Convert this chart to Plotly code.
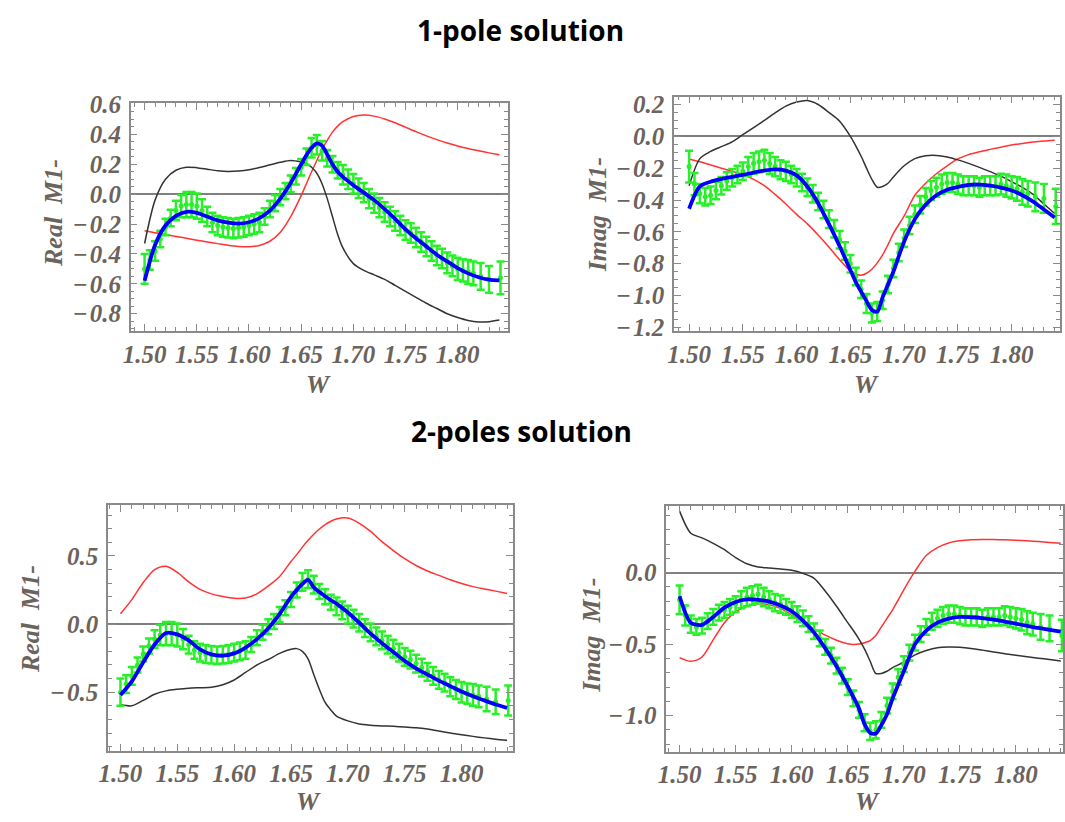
import plotly.graph_objects as go

# ---------------- data ----------------
W_FIT = [1.50, 1.51, 1.52, 1.53, 1.54, 1.55, 1.56, 1.57, 1.58, 1.59, 1.60, 1.61, 1.62, 1.63,
         1.64, 1.65, 1.655, 1.66, 1.665, 1.67, 1.675, 1.68, 1.685, 1.69, 1.70, 1.71, 1.72,
         1.73, 1.74, 1.75, 1.76, 1.77, 1.78, 1.79, 1.80, 1.81, 1.82, 1.83, 1.84]

W_DATA = [1.500, 1.505, 1.510, 1.515, 1.520, 1.525, 1.530, 1.535, 1.540, 1.545, 1.550, 1.555,
          1.560, 1.565, 1.570, 1.575, 1.580, 1.585, 1.590, 1.595, 1.600, 1.605, 1.610, 1.615,
          1.620, 1.625, 1.630, 1.635, 1.640, 1.645, 1.650, 1.655, 1.660, 1.665, 1.670, 1.675,
          1.680, 1.685, 1.690, 1.695, 1.700, 1.705, 1.710, 1.715, 1.720, 1.725, 1.730, 1.735,
          1.740, 1.745, 1.750, 1.755, 1.760, 1.765, 1.770, 1.775, 1.780, 1.785, 1.790, 1.795,
          1.800, 1.805, 1.810, 1.815, 1.822, 1.830, 1.841]

REAL_DATA = [-0.50, -0.44, -0.38, -0.30, -0.22, -0.16, -0.11, -0.08, -0.07, -0.07, -0.08, -0.11,
             -0.15, -0.19, -0.21, -0.22, -0.225, -0.23, -0.225, -0.22, -0.21, -0.20, -0.19, -0.15,
             -0.10, -0.06, -0.02, 0.02, 0.07, 0.12, 0.18, 0.25, 0.31, 0.33, 0.29, 0.24,
             0.20, 0.16, 0.13, 0.10, 0.07, 0.04, 0.01, -0.03, -0.06, -0.09, -0.12, -0.15,
             -0.18, -0.21, -0.24, -0.26, -0.29, -0.32, -0.35, -0.38, -0.41, -0.43, -0.46, -0.48,
             -0.50, -0.51, -0.52, -0.53, -0.55, -0.57, -0.56]
REAL_ERR = [0.10, 0.065, 0.065, 0.055, 0.055, 0.055, 0.065, 0.075, 0.085, 0.085, 0.085, 0.075,
            0.065, 0.065, 0.065, 0.065, 0.065, 0.065, 0.065, 0.065, 0.065, 0.065, 0.065, 0.055,
            0.055, 0.055, 0.055, 0.055, 0.055, 0.055, 0.055, 0.055, 0.065, 0.065, 0.065, 0.055,
            0.055, 0.055, 0.065, 0.065, 0.065, 0.065, 0.065, 0.065, 0.065, 0.065, 0.065, 0.065,
            0.065, 0.065, 0.065, 0.065, 0.065, 0.065, 0.065, 0.065, 0.065, 0.065, 0.07, 0.07,
            0.075, 0.075, 0.08, 0.08, 0.09, 0.09, 0.11]

IMAG_DATA = [-0.19, -0.30, -0.36, -0.38, -0.37, -0.34, -0.31, -0.28, -0.26, -0.24, -0.22, -0.19,
             -0.17, -0.16, -0.15, -0.17, -0.19, -0.21, -0.22, -0.24, -0.26, -0.29, -0.32, -0.36,
             -0.41, -0.46, -0.52, -0.58, -0.65, -0.72, -0.80, -0.88, -0.96, -1.05, -1.11, -1.10,
             -1.03, -0.93, -0.83, -0.73, -0.64, -0.56, -0.49, -0.43, -0.38, -0.34, -0.32, -0.30,
             -0.29, -0.29, -0.30, -0.31, -0.31, -0.31, -0.32, -0.31, -0.31, -0.31, -0.30, -0.31,
             -0.32, -0.33, -0.35, -0.36, -0.38, -0.39, -0.44]
IMAG_ERR = [0.10, 0.07, 0.06, 0.055, 0.055, 0.055, 0.055, 0.055, 0.055, 0.055, 0.055, 0.06,
            0.065, 0.065, 0.065, 0.065, 0.06, 0.06, 0.06, 0.055, 0.055, 0.055, 0.055, 0.055,
            0.055, 0.055, 0.055, 0.055, 0.055, 0.055, 0.055, 0.055, 0.055, 0.06, 0.06, 0.06,
            0.055, 0.055, 0.055, 0.055, 0.055, 0.055, 0.055, 0.055, 0.055, 0.06, 0.06, 0.06,
            0.06, 0.06, 0.06, 0.06, 0.06, 0.06, 0.06, 0.06, 0.06, 0.06, 0.065, 0.07,
            0.07, 0.075, 0.08, 0.08, 0.09, 0.09, 0.11]

# 1-pole solution, real part
REAL_1P_FIT = [-0.58, -0.34, -0.21, -0.145, -0.118, -0.125, -0.15, -0.175, -0.19, -0.197, -0.188,
               -0.16, -0.11, -0.03, 0.075, 0.20, 0.26, 0.31, 0.34, 0.325, 0.265, 0.20, 0.15, 0.115,
               0.06, 0.01, -0.04, -0.10, -0.165, -0.235, -0.295, -0.35, -0.405, -0.45, -0.495,
               -0.53, -0.556, -0.572, -0.577]
REAL_1P_RED = [-0.245, -0.258, -0.27, -0.283, -0.295, -0.308, -0.32, -0.331, -0.342, -0.35, -0.352,
               -0.343, -0.315, -0.255, -0.15, -0.01, 0.07, 0.15, 0.225, 0.30, 0.36, 0.415, 0.455,
               0.485, 0.52, 0.53, 0.522, 0.503, 0.478, 0.448, 0.418, 0.39, 0.365, 0.342, 0.322,
               0.305, 0.29, 0.276, 0.263]
REAL_1P_BLACK = [-0.33, -0.04, 0.10, 0.16, 0.18, 0.177, 0.167, 0.157, 0.152, 0.155, 0.163, 0.178,
                 0.196, 0.213, 0.225, 0.215, 0.205, 0.18, 0.14, 0.07, -0.03, -0.15, -0.27, -0.36,
                 -0.465, -0.51, -0.54, -0.57, -0.61, -0.65, -0.69, -0.73, -0.765, -0.80, -0.825,
                 -0.845, -0.855, -0.853, -0.842]

# 1-pole solution, imaginary part
IMAG_1P_FIT = [-0.455, -0.315, -0.285, -0.268, -0.255, -0.242, -0.228, -0.215, -0.207, -0.215,
               -0.245, -0.315, -0.42, -0.55, -0.69, -0.84, -0.915, -0.975, -1.035, -1.09, -1.10,
               -1.01, -0.93, -0.85, -0.66, -0.52, -0.43, -0.37, -0.335, -0.318, -0.305, -0.303,
               -0.31, -0.322, -0.34, -0.37, -0.41, -0.46, -0.51]
IMAG_1P_RED = [-0.142, -0.16, -0.18, -0.20, -0.22, -0.24, -0.27, -0.31, -0.365, -0.425, -0.49,
               -0.55, -0.62, -0.695, -0.775, -0.845, -0.865, -0.872, -0.86, -0.835, -0.795, -0.745,
               -0.68, -0.61, -0.50, -0.37, -0.295, -0.235, -0.185, -0.142, -0.115, -0.097, -0.082,
               -0.068, -0.055, -0.045, -0.036, -0.029, -0.024]
IMAG_1P_BLACK = [-0.31, -0.14, -0.095, -0.065, -0.035, 0.01, 0.055, 0.10, 0.148, 0.19, 0.215,
                 0.225, 0.20, 0.15, 0.095, 0.0, -0.06, -0.125, -0.20, -0.27, -0.32, -0.315, -0.295,
                 -0.255, -0.185, -0.14, -0.122, -0.12, -0.13, -0.148, -0.17, -0.195, -0.222, -0.25,
                 -0.285, -0.32, -0.365, -0.425, -0.485]

# 2-poles solution, real part
REAL_2P_FIT = [-0.52, -0.42, -0.28, -0.15, -0.065, -0.075, -0.12, -0.185, -0.222, -0.232, -0.215,
               -0.172, -0.11, -0.03, 0.075, 0.20, 0.25, 0.295, 0.325, 0.27, 0.235, 0.205, 0.175,
               0.15, 0.085, 0.01, -0.07, -0.14, -0.205, -0.27, -0.325, -0.37, -0.415, -0.455,
               -0.495, -0.53, -0.56, -0.59, -0.615]
REAL_2P_RED = [0.076, 0.18, 0.305, 0.40, 0.425, 0.38, 0.31, 0.255, 0.222, 0.203, 0.19, 0.192,
               0.222, 0.28, 0.35, 0.46, 0.51, 0.565, 0.615, 0.66, 0.698, 0.73, 0.755, 0.772, 0.778,
               0.74, 0.68, 0.605, 0.54, 0.48, 0.43, 0.39, 0.358, 0.325, 0.298, 0.275, 0.258, 0.242,
               0.225]
REAL_2P_BLACK = [-0.59, -0.60, -0.56, -0.515, -0.49, -0.478, -0.47, -0.467, -0.464, -0.445, -0.41,
                 -0.355, -0.30, -0.26, -0.215, -0.185, -0.18, -0.20, -0.255, -0.37, -0.48, -0.575,
                 -0.63, -0.675, -0.71, -0.733, -0.742, -0.747, -0.75, -0.755, -0.76, -0.77, -0.785,
                 -0.80, -0.812, -0.824, -0.835, -0.845, -0.853]

# 2-poles solution, imaginary part
IMAG_2P_FIT = [-0.165, -0.35, -0.365, -0.31, -0.245, -0.205, -0.187, -0.19, -0.203, -0.23, -0.27,
               -0.335, -0.42, -0.53, -0.655, -0.795, -0.87, -0.95, -1.06, -1.12, -1.125, -1.065,
               -0.99, -0.88, -0.69, -0.50, -0.405, -0.35, -0.322, -0.31, -0.312, -0.318, -0.328,
               -0.342, -0.357, -0.372, -0.387, -0.40, -0.413]
IMAG_2P_RED = [-0.594, -0.62, -0.59, -0.47, -0.35, -0.275, -0.235, -0.218, -0.225, -0.25, -0.295,
               -0.345, -0.393, -0.437, -0.473, -0.498, -0.503, -0.50, -0.49, -0.475, -0.44, -0.38,
               -0.32, -0.26, -0.12, 0.01, 0.12, 0.175, 0.207, 0.222, 0.23, 0.232, 0.231, 0.229,
               0.226, 0.222, 0.217, 0.211, 0.205]
IMAG_2P_BLACK = [0.43, 0.275, 0.243, 0.205, 0.16, 0.105, 0.062, 0.04, 0.032, 0.025, 0.016, -0.005,
                 -0.04, -0.13, -0.235, -0.35, -0.405, -0.465, -0.535, -0.62, -0.705, -0.705, -0.69,
                 -0.665, -0.625, -0.575, -0.545, -0.525, -0.52, -0.522, -0.53, -0.542, -0.555,
                 -0.567, -0.578, -0.588, -0.598, -0.608, -0.618]

X_TICKS = [1.50, 1.55, 1.60, 1.65, 1.70, 1.75, 1.80]
Y_TICKS_REAL_1P = [-0.8, -0.6, -0.4, -0.2, 0.0, 0.2, 0.4, 0.6]
Y_TICKS_IMAG_1P = [-1.2, -1.0, -0.8, -0.6, -0.4, -0.2, 0.0, 0.2]
Y_TICKS_REAL_2P = [-0.5, 0.0, 0.5]
Y_TICKS_IMAG_2P = [-1.0, -0.5, 0.0]

# ---------------- styling ----------------
LABEL_COLOR = "#6b635c"
FRAME_COLOR = "#8a8a8a"
GREEN = "rgb(40,240,40)"
TICK_FONT = dict(family="Liberation Serif", size=25, color=LABEL_COLOR, weight=700, style="italic")
TITLE_FONT = dict(family="Liberation Serif", size=26, color=LABEL_COLOR, weight=700, style="italic")

W, H = 1065, 822


def px_x(p):
    return p / W


def px_y(p):
    return 1 - p / H


def ylabel(v):
    s = "%.1f" % abs(v)
    return ("\u2212\u200a" + s) if v < 0 else s


panels = [
    dict(x=(123, 504), y=(94, 328), xr=[1.4867, 1.848], yr=[-0.917, 0.6065], yt=Y_TICKS_REAL_1P, mdt=0.05,
         data=REAL_DATA, err=REAL_ERR, fit=REAL_1P_FIT, red=REAL_1P_RED, black=REAL_1P_BLACK,
         ylab="Real  M1-", ylab_pos=(45, 207), w_pos=(313, 383)),
    dict(x=(672, 1062), y=(87, 328), xr=[1.486, 1.845], yr=[-1.224, 0.249], yt=Y_TICKS_IMAG_1P, mdt=0.05,
         data=IMAG_DATA, err=IMAG_ERR, fit=IMAG_1P_FIT, red=IMAG_1P_RED, black=IMAG_1P_BLACK,
         ylab="Imag  M1-", ylab_pos=(595, 208), w_pos=(866, 383)),
    dict(x=(100, 509), y=(507, 759), xr=[1.489, 1.845], yr=[-0.929, 0.871], yt=Y_TICKS_REAL_2P, mdt=0.1,
         data=REAL_DATA, err=REAL_ERR, fit=REAL_2P_FIT, red=REAL_2P_RED, black=REAL_2P_BLACK,
         ylab="Real  M1-", ylab_pos=(22, 624), w_pos=(303, 811)),
    dict(x=(664, 1065), y=(508, 760), xr=[1.488, 1.842], yr=[-1.252, 0.463], yt=Y_TICKS_IMAG_2P, mdt=0.1,
         data=IMAG_DATA, err=IMAG_ERR, fit=IMAG_2P_FIT, red=IMAG_2P_RED, black=IMAG_2P_BLACK,
         ylab="Imag  M1-", ylab_pos=(589, 640), w_pos=(867, 811)),
]

fig = go.Figure()
layout = dict(width=W, height=H, margin=dict(l=0, r=0, t=0, b=0), paper_bgcolor="white",
              plot_bgcolor="white", showlegend=False)
annotations = []

for i, p in enumerate(panels):
    n = "" if i == 0 else str(i + 1)
    xa, ya = "x" + n, "y" + n
    common = dict(showline=True, mirror="allticks", linecolor=FRAME_COLOR, linewidth=1.5,
                  ticks="inside", ticklen=7, tickwidth=1.2, tickcolor=FRAME_COLOR,
                  showgrid=False, tickfont=TICK_FONT)
    layout["xaxis" + n] = dict(common, domain=[px_x(p["x"][0]), px_x(p["x"][1])], range=p["xr"],
                               anchor=ya, tickvals=X_TICKS, ticktext=["%.2f" % v for v in X_TICKS],
                               zeroline=False, ticklabelstandoff=0,
                               minor=dict(ticks="inside", ticklen=4, dtick=0.01, tick0=1.5,
                                          tickcolor=FRAME_COLOR, showgrid=False))
    layout["yaxis" + n] = dict(common, domain=[px_y(p["y"][1]), px_y(p["y"][0])], range=p["yr"],
                               anchor=xa, tickvals=p["yt"], ticktext=[ylabel(v) for v in p["yt"]],
                               zeroline=True, zerolinecolor="#7f7f7f", zerolinewidth=1.8,
                               ticklabelstandoff=3,
                               minor=dict(ticks="inside", ticklen=4, dtick=p["mdt"], tick0=0,
                                          tickcolor=FRAME_COLOR, showgrid=False))

    fig.add_trace(go.Scatter(x=W_FIT, y=p["red"], mode="lines", xaxis=xa, yaxis=ya,
                             line=dict(color="#ff3333", width=1.5, shape="spline", smoothing=0.8)))
    fig.add_trace(go.Scatter(x=W_FIT, y=p["black"], mode="lines", xaxis=xa, yaxis=ya,
                             line=dict(color="#333333", width=1.5, shape="spline", smoothing=0.8)))
    fig.add_trace(go.Scatter(x=W_DATA, y=p["data"], mode="markers", xaxis=xa, yaxis=ya,
                             marker=dict(color=GREEN, size=5),
                             error_y=dict(type="data", array=p["err"], visible=True,
                                          color=GREEN, thickness=2.5, width=4)))
    fig.add_trace(go.Scatter(x=W_FIT, y=p["fit"], mode="lines", xaxis=xa, yaxis=ya,
                             line=dict(color="#0000ff", width=3.8, shape="spline", smoothing=0.8)))

    annotations.append(dict(text=p["ylab"], x=px_x(p["ylab_pos"][0]), y=px_y(p["ylab_pos"][1]),
                            xref="paper", yref="paper", showarrow=False, textangle=-90,
                            font=TITLE_FONT, xanchor="center", yanchor="middle"))
    annotations.append(dict(text="W", x=px_x(p["w_pos"][0]), y=px_y(p["w_pos"][1]),
                            xref="paper", yref="paper", showarrow=False,
                            font=TITLE_FONT, xanchor="center", yanchor="middle"))

HEAD_FONT = dict(family="Open Sans", size=28, color="black", weight="bold")
annotations.append(dict(text="1-pole solution", x=px_x(517), y=px_y(19), xref="paper", yref="paper",
                        showarrow=False, font=HEAD_FONT, xanchor="center", yanchor="middle"))
annotations.append(dict(text="2-poles solution", x=px_x(518), y=px_y(431), xref="paper", yref="paper",
                        showarrow=False, font=HEAD_FONT, xanchor="center", yanchor="middle"))

layout["annotations"] = annotations
fig.update_layout(**layout)
fig.write_html("out.html")
